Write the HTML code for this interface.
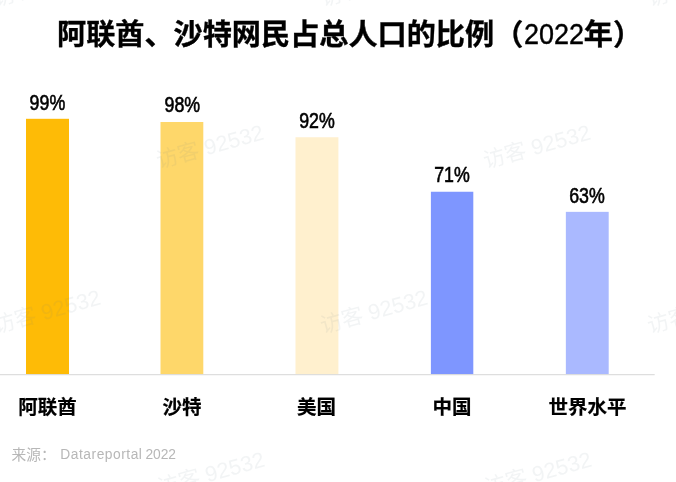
<!DOCTYPE html>
<html lang="zh-CN">
<head>
<meta charset="utf-8">
<title>阿联酋、沙特网民占总人口的比例（2022年）</title>
<style>
html,body{margin:0;padding:0;background:#fff;}
body{width:676px;height:482px;position:relative;overflow:hidden;font-family:"Liberation Sans","Noto Sans CJK SC",sans-serif;color:#000;}
.abs{position:absolute;white-space:nowrap;}
.title{left:57px;top:12.7px;height:44px;line-height:44px;font-size:29.15px;font-weight:700;letter-spacing:0;-webkit-text-stroke:.35px #000;}
.title .num{display:inline-block;font-weight:400;font-size:30px;transform:scaleX(.9);transform-origin:0 50%;width:59.5px;margin-left:1px;position:relative;top:-.5px;-webkit-text-stroke:.4px #000;}
.title .pl{margin-left:0;}
.bar{position:absolute;width:43px;}
.val{position:absolute;width:80px;margin-left:.6px;margin-top:-1px;text-align:center;font-size:21px;line-height:20px;height:20px;}
.val span{display:inline-block;transform:translate(calc(-.6px + var(--dx,0px)),calc(.45px + var(--dy,0px))) scale(.848,1.015);transform-origin:50% 50%;-webkit-text-stroke:.6px #000;}
.lab{position:absolute;width:120px;text-align:center;font-size:19.5px;font-weight:700;line-height:24px;height:24px;top:394.5px;-webkit-text-stroke:.2px #000;}
.axis{position:absolute;left:0;top:374px;width:655px;height:1px;background:#d9d9d9;}
.src{top:443px;line-height:22px;height:22px;color:#b7b7b7;}
.src.cn{left:11.5px;font-size:14.7px;top:443.5px;}
.src.en{left:60.3px;font-size:13.8px;letter-spacing:.52px;top:444.2px;}
.src.yr{left:145.6px;font-size:13.8px;letter-spacing:-.15px;top:444.2px;}
.wm{position:absolute;width:140px;height:30px;line-height:30px;margin-left:-70px;margin-top:-15px;text-align:center;font-size:21.8px;color:rgba(110,125,140,.085);transform:rotate(-15.4deg);white-space:nowrap;}
</style>
</head>
<body>
<div class="abs title">阿联酋、沙特网民占总人口的比例<span class="pl">（</span><span class="num">2022</span>年）</div>

<svg class="chart" width="676" height="482" viewBox="0 0 676 482" style="position:absolute;left:0;top:0;">
<rect x="26" y="118.8" width="43" height="255.4" fill="#febb06"/>
<rect x="160.5" y="122" width="42.8" height="252.2" fill="#fed76a"/>
<rect x="295.5" y="137.25" width="42.9" height="236.95" fill="#fff0ce"/>
<rect x="430.9" y="191.75" width="42.4" height="182.45" fill="#7e96ff"/>
<rect x="565.85" y="211.85" width="42.85" height="162.35" fill="#aab9ff"/>
<rect x="0" y="374.2" width="654.7" height="1" fill="#d6d6d6"/>
</svg>

<div class="val" style="left:7px;top:93px;"><span>99%</span></div>
<div class="val" style="left:142px;top:95px;--dx:-.1px;--dy:.5px;"><span>98%</span></div>
<div class="val" style="left:277px;top:111px;--dx:-.4px;"><span>92%</span></div>
<div class="val" style="left:412px;top:165px;--dx:-.4px;"><span>71%</span></div>
<div class="val" style="left:547px;top:185.5px;--dx:-.4px;"><span>63%</span></div>

<div class="lab" style="left:-12.5px;">阿联酋</div>
<div class="lab" style="left:122px;">沙特</div>
<div class="lab" style="left:256.5px;">美国</div>
<div class="lab" style="left:392px;">中国</div>
<div class="lab" style="left:527.5px;">世界水平</div>

<div class="abs src cn">来源：</div><div class="abs src en">Datareportal</div><div class="abs src yr">2022</div>

<div class="wm" style="left:46.5px;top:-15.5px;">访客 92532</div>
<div class="wm" style="left:373.5px;top:-15.5px;">访客 92532</div>
<div class="wm" style="left:700.5px;top:-15.5px;">访客 92532</div>
<div class="wm" style="left:210px;top:147px;">访客 92532</div>
<div class="wm" style="left:537px;top:147px;">访客 92532</div>
<div class="wm" style="left:47.3px;top:311.5px;">访客 92532</div>
<div class="wm" style="left:374.3px;top:311.5px;">访客 92532</div>
<div class="wm" style="left:701.3px;top:311.5px;">访客 92532</div>
<div class="wm" style="left:211px;top:474.2px;">访客 92532</div>
<div class="wm" style="left:538px;top:474.2px;">访客 92532</div>
</body>
</html>
